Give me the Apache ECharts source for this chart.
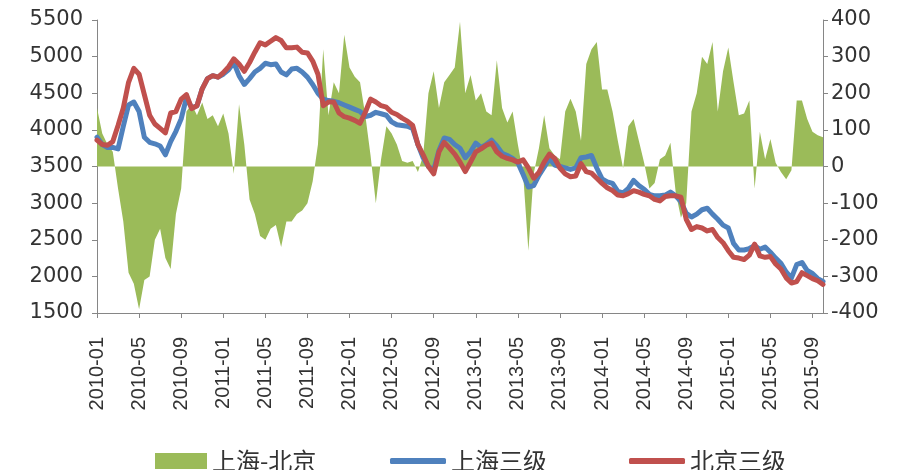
<!DOCTYPE html>
<html>
<head>
<meta charset="utf-8">
<script src="https://cdn.jsdelivr.net/npm/echarts@6/dist/echarts.min.js"></script>
<style>
html,body{margin:0;padding:0;background:#fff;}
#chart{width:900px;height:470px;}
</style>
</head>
<body>
<div id="chart"></div>
<script>
// Half-monthly observation dates, 2010-01 .. 2015-10
var categories = [];
for (var i = 0; i < 139; i++) {
  var y = 2010 + Math.floor(i / 24);
  var m = Math.floor((i % 24) / 2) + 1;
  categories.push(y + '-' + (m < 10 ? '0' + m : m) + '-' + (i % 2 ? '16' : '01'));
}

var seriesNames = ['上海-北京', '上海三级', '北京三级'];

// 上海三级 (left axis)
var shanghai = [3900,3800,3760,3760,3740,4050,4340,4380,4250,3900,
3830,3810,3780,3660,3840,3980,4150,4440,4300,4330,
4560,4700,4740,4720,4760,4820,4920,4740,4620,4700,
4790,4840,4910,4890,4900,4790,4750,4830,4840,4790,
4720,4620,4500,4420,4400,4390,4370,4340,4310,4280,
4250,4180,4200,4240,4220,4200,4110,4070,4060,4050,
4020,3800,3620,3500,3450,3720,3890,3870,3800,3750,
3620,3700,3820,3760,3800,3860,3780,3680,3650,3610,
3550,3390,3220,3240,3380,3490,3610,3520,3500,3480,
3460,3480,3620,3630,3650,3480,3330,3290,3270,3160,
3140,3200,3310,3240,3190,3120,3100,3100,3110,3150,
3100,3020,2860,2810,2850,2910,2930,2850,2780,2700,
2660,2450,2360,2360,2380,2420,2370,2400,2330,2250,
2180,2060,1980,2160,2190,2080,2040,1970,1930];

// 北京三级 (left axis)
var beijing = [3860,3800,3790,3840,4060,4300,4650,4840,4760,4480,
4200,4080,4020,3960,4230,4250,4420,4480,4290,4330,
4560,4700,4740,4720,4780,4860,4970,4900,4800,4920,
5060,5190,5160,5210,5260,5220,5120,5120,5130,5060,
5050,4940,4760,4330,4380,4380,4230,4180,4160,4130,
4090,4240,4420,4380,4330,4310,4240,4210,4160,4120,
4060,3800,3660,3500,3400,3700,3830,3750,3670,3560,
3430,3560,3700,3740,3790,3820,3700,3640,3610,3590,
3560,3590,3480,3340,3420,3560,3670,3610,3480,3400,
3360,3370,3540,3430,3410,3340,3270,3210,3170,3110,
3100,3130,3170,3150,3120,3100,3050,3030,3090,3100,
3100,3080,2780,2640,2680,2660,2620,2640,2530,2460,
2350,2260,2250,2230,2290,2440,2280,2260,2270,2170,
2100,1980,1910,1930,2050,2010,1970,1940,1890];

// 上海-北京 spread (right axis)
var spread = [160,90,60,40,-60,-150,-290,-320,-390,-310,
-300,-200,-170,-250,-280,-130,-60,150,170,140,
175,130,140,110,145,90,-20,170,60,-90,
-130,-190,-200,-170,-160,-220,-150,-150,-130,-120,
-100,-40,60,320,140,230,200,360,270,245,
230,140,30,-100,20,110,90,60,15,10,
15,-15,30,200,260,160,230,250,270,395,
200,250,180,200,150,140,290,160,120,150,
60,-20,-230,-20,50,140,50,30,20,150,
185,150,70,280,320,340,210,210,150,70,
-5,110,130,70,10,-60,-45,20,30,65,
-70,-140,-100,150,200,300,280,340,150,260,
325,230,140,145,180,-60,95,20,75,10,
-15,-35,-10,180,180,130,95,85,80];

var leftTicks = {min: 1500, max: 5500, interval: 500};
var rightTicks = {min: -400, max: 400, interval: 100};

var GREEN = '#9BBB59', BLUE = '#4F81BD', RED = '#C0504D';
var axisColor = '#868686';
var labelColor = '#333333';

var chart = echarts.init(document.getElementById('chart'), null, {renderer: 'canvas'});
var legendText = {fontFamily: '"Noto Sans CJK SC", sans-serif', fontSize: 24, color: '#333333'};
var plain = function (v) { return String(v); };

chart.setOption({
  animation: false,
  backgroundColor: '#ffffff',
  grid: {left: 97, right: 77, top: 20, bottom: 157, containLabel: false},
  legend: [
    {left: 150, top: 444, itemWidth: 52, itemHeight: 16, itemGap: 0, textStyle: legendText,
     data: [{name: seriesNames[0], icon: 'rect'}]},
    {left: 385, top: 444, itemWidth: 56, itemHeight: 6, itemGap: 0, textStyle: legendText,
     data: [{name: seriesNames[1], icon: 'roundRect'}]},
    {left: 624, top: 444, itemWidth: 56, itemHeight: 6, itemGap: 0, textStyle: legendText,
     data: [{name: seriesNames[2], icon: 'roundRect'}]}
  ],
  xAxis: {
    type: 'category',
    data: categories,
    boundaryGap: false,
    axisLine: {onZero: false, lineStyle: {color: axisColor, width: 1}},
    axisTick: {show: true, interval: 7, length: 5, lineStyle: {color: axisColor}},
    axisLabel: {
      interval: 7, rotate: 90, margin: 24,
      fontFamily: '"Liberation Sans", Arial, sans-serif', fontSize: 20, color: labelColor,
      formatter: function (v) { return v.slice(0, 7); }
    },
    splitLine: {show: false}
  },
  yAxis: [
    {
      type: 'value', position: 'left',
      min: leftTicks.min, max: leftTicks.max, interval: leftTicks.interval,
      axisLine: {show: true, lineStyle: {color: axisColor}},
      axisTick: {show: true, length: 5, lineStyle: {color: axisColor}},
      axisLabel: {margin: 14, fontFamily: '"DejaVu Sans", sans-serif', fontSize: 21, color: labelColor, formatter: plain},
      splitLine: {show: false}
    },
    {
      type: 'value', position: 'right',
      min: rightTicks.min, max: rightTicks.max, interval: rightTicks.interval,
      axisLine: {show: true, lineStyle: {color: axisColor}},
      axisTick: {show: true, length: 5, lineStyle: {color: axisColor}},
      axisLabel: {margin: 8, fontFamily: '"DejaVu Sans", sans-serif', fontSize: 21, color: labelColor, formatter: plain},
      splitLine: {show: false}
    }
  ],
  series: [
    {
      name: seriesNames[0], type: 'line', yAxisIndex: 1, data: spread,
      symbol: 'none', lineStyle: {width: 0, color: GREEN},
      itemStyle: {color: GREEN},
      areaStyle: {color: GREEN, opacity: 1, origin: 0},
      z: 1
    },
    {
      name: seriesNames[1], type: 'line', yAxisIndex: 0, data: shanghai,
      symbol: 'none', itemStyle: {color: BLUE},
      lineStyle: {width: 5, color: BLUE, cap: 'round', join: 'round'},
      z: 2
    },
    {
      name: seriesNames[2], type: 'line', yAxisIndex: 0, data: beijing,
      symbol: 'none', itemStyle: {color: RED},
      lineStyle: {width: 5, color: RED, cap: 'round', join: 'round'},
      z: 3
    }
  ]
});
</script>
</body>
</html>
